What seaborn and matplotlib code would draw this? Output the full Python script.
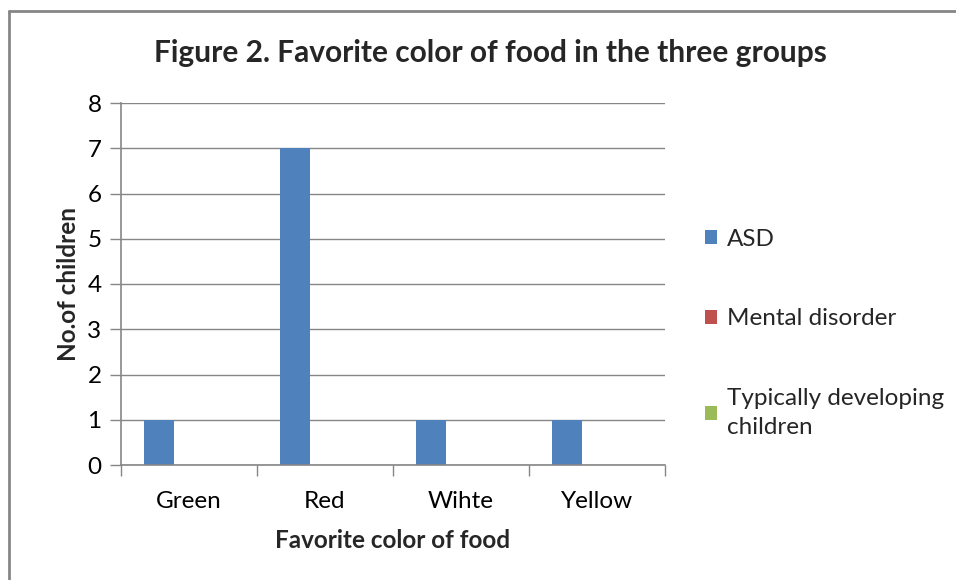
import matplotlib
matplotlib.use("Agg")
import matplotlib.pyplot as plt
import seaborn as sns
import pandas as pd
from matplotlib.lines import Line2D

categories = ["Green", "Red", "Wihte", "Yellow"]
groups = ["ASD", "Mental disorder", "Typically developing children"]
asd = [1, 7, 1, 1]
mental = [0, 0, 0, 0]
typical = [0, 0, 0, 0]
colors = ["#4F81BD", "#C0504D", "#9BBB59"]

rows = []
for g, vals in zip(groups, [asd, mental, typical]):
    for c, v in zip(categories, vals):
        rows.append({"Favorite color of food": c, "group": g, "No.of children": v})
df = pd.DataFrame(rows)

sns.set_theme(style="white")
plt.rcParams["font.family"] = ["Lato", "DejaVu Sans"]

fig = plt.figure(figsize=(9.56, 5.8), dpi=100)
ax = fig.add_axes([121/956, 1-465/580, (665-121)/956, (465-103)/580])

sns.barplot(data=df, x="Favorite color of food", y="No.of children", hue="group",
            order=categories, hue_order=groups, palette=colors,
            width=3/4.5, gap=0, dodge=True, saturation=1, ax=ax, legend=True,
            linewidth=0, edgecolor="none")

ax.set_xlim(-0.5, 3.5)
ax.set_ylim(0, 8)
ax.set_yticks(range(0, 9))
ax.yaxis.grid(True, color="#868686", linewidth=1)
ax.set_axisbelow(True)
for s in ["top", "right"]:
    ax.spines[s].set_visible(False)
ax.spines["left"].set_color("#868686")
ax.spines["bottom"].set_color("#868686")
ax.spines["bottom"].set_linewidth(1.2)
ax.spines["left"].set_linewidth(1.2)

# category boundary ticks on x
ax.set_xticks([-0.5, 0.5, 1.5, 2.5, 3.5], minor=True)
ax.set_xticks(range(len(categories)))
ax.set_xticklabels(categories)
ax.tick_params(axis="x", which="major", length=0, labelsize=17.5, pad=19, colors="black")
ax.tick_params(axis="x", which="minor", length=8, width=1, color="#868686", direction="out", bottom=True)
ax.tick_params(axis="y", length=8, width=1, color="#868686", direction="out", left=True,
               labelsize=17.5, pad=6, labelcolor="black")

ax.set_xlabel("Favorite color of food", fontsize=17.5, fontweight="bold", labelpad=12)
ax.set_ylabel("No.of children", fontsize=17.5, fontweight="bold", labelpad=5)

fig.text(490/956, 1-53/580, "Figure 2. Favorite color of food in the three groups",
         ha="center", va="center", fontsize=21.5, fontweight="bold")

handles, labels = ax.get_legend_handles_labels()
labels = ["ASD", "Mental disorder", "Typically developing\nchildren"]
leg = ax.legend(handles, labels, loc="upper left", bbox_to_anchor=(705/956, 1-229/580),
                bbox_transform=fig.transFigure, frameon=False, fontsize=17.5,
                handlelength=0.5, handleheight=0.5, handletextpad=0.4, labelspacing=2.4,
                borderpad=0, borderaxespad=0)
for t in leg.get_texts():
    t.set_linespacing(1.5)

# figure border (left and top)
fig.add_artist(Line2D([9/956, 9/956], [0, 1-11/580], transform=fig.transFigure, color="#868686", linewidth=2))
fig.add_artist(Line2D([9/956, 1], [1-11/580, 1-11/580], transform=fig.transFigure, color="#868686", linewidth=2))

fig.savefig("out.png", dpi=100)
